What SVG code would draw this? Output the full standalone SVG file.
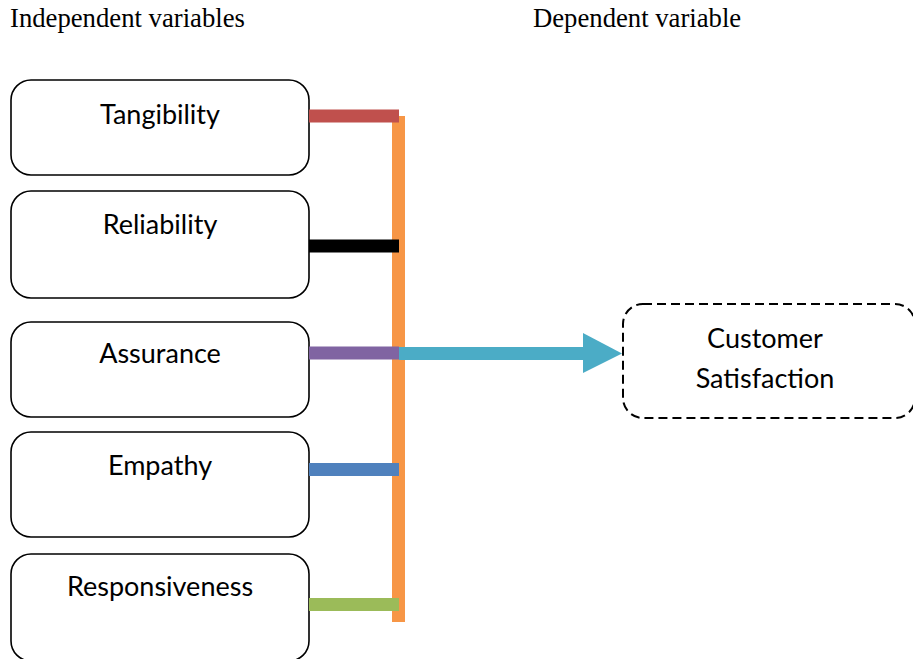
<svg xmlns="http://www.w3.org/2000/svg" width="913" height="659" viewBox="0 0 913 659">
  <style>
    .head { font-family: "Liberation Serif", "Times New Roman", serif; font-size: 26.7px; fill: #000; }
    .lbl { font-family: "Lato", "Liberation Sans", sans-serif; font-size: 27px; fill: #000; text-anchor: middle; }
    .box { fill: #fff; stroke: #000; stroke-width: 1.6; }
    .dash { fill: #fff; stroke: #000; stroke-width: 2; stroke-dasharray: 9 5; }
    .bar { stroke-width: 13; fill: none; }
  </style>
  <rect width="913" height="659" fill="#fff"/>

  <text class="head" x="10" y="27">Independent variables</text>
  <text class="head" x="533" y="27">Dependent variable</text>

  <g id="tangibility">
    <rect class="box" x="11" y="80" width="298" height="95" rx="20"/>
    <text class="lbl" x="160" y="124">Tangibility</text>
  </g>
  <g id="reliability">
    <rect class="box" x="11" y="191" width="298" height="107" rx="20"/>
    <text class="lbl" x="160" y="234">Reliability</text>
  </g>
  <g id="assurance">
    <rect class="box" x="11" y="322" width="298" height="95" rx="20"/>
    <text class="lbl" x="160" y="363">Assurance</text>
  </g>
  <g id="empathy">
    <rect class="box" x="11" y="432" width="298" height="105" rx="20"/>
    <text class="lbl" x="160" y="475">Empathy</text>
  </g>
  <g id="responsiveness">
    <rect class="box" x="11" y="554" width="298" height="107" rx="20"/>
    <text class="lbl" x="160" y="596">Responsiveness</text>
  </g>
  <g id="customer-satisfaction">
    <rect class="dash" x="623" y="304" width="292" height="114" rx="20"/>
    <text class="lbl" x="765" y="348">Customer</text>
    <text class="lbl" x="765" y="388">Satisfaction</text>
  </g>

  <g id="connectors">
    <line class="bar" x1="398.5" y1="116" x2="398.5" y2="622" stroke="#F79646"/>
    <line class="bar" x1="309" y1="116" x2="399" y2="116" stroke="#C0504D"/>
    <line class="bar" x1="309" y1="246" x2="399" y2="246" stroke="#000"/>
    <line class="bar" x1="309" y1="353" x2="399" y2="353" stroke="#8064A2"/>
    <line class="bar" x1="309" y1="469.5" x2="399" y2="469.5" stroke="#4F81BD"/>
    <line class="bar" x1="309" y1="604.5" x2="399" y2="604.5" stroke="#9BBB59"/>
    <line class="bar" x1="399" y1="353.5" x2="584" y2="353.5" stroke="#4BACC6"/>
    <polygon points="583,333 622,353.5 583,373" fill="#4BACC6"/>
  </g>
</svg>
